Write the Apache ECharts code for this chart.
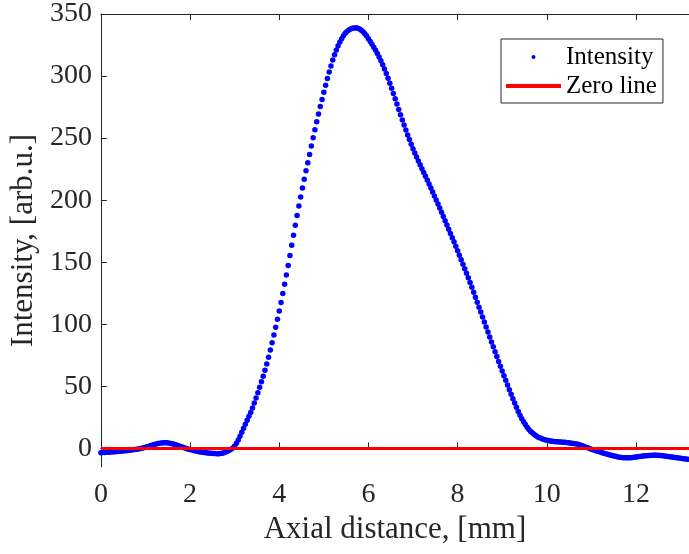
<!DOCTYPE html>
<html>
<head>
<meta charset="utf-8">
<script src="https://cdn.jsdelivr.net/npm/echarts@6/dist/echarts.min.js"></script>
<style>
  html, body { margin: 0; padding: 0; background: #fff; }
  #main { width: 689px; height: 554px; }
</style>
</head>
<body>
<div id="main"></div>
<script>
// axial position [mm]
var axialMm = [
    0.00, 0.04, 0.08, 0.12, 0.16, 0.20, 0.24, 0.28, 0.32, 0.36,
    0.40, 0.44, 0.48, 0.52, 0.56, 0.60, 0.64, 0.68, 0.72, 0.76,
    0.80, 0.84, 0.88, 0.92, 0.96, 1.00, 1.04, 1.08, 1.12, 1.16,
    1.20, 1.24, 1.28, 1.32, 1.36, 1.40, 1.44, 1.48, 1.52, 1.56,
    1.60, 1.64, 1.68, 1.72, 1.76, 1.80, 1.84, 1.88, 1.92, 1.96,
    2.00, 2.04, 2.08, 2.12, 2.16, 2.20, 2.24, 2.28, 2.32, 2.36,
    2.40, 2.44, 2.48, 2.52, 2.56, 2.60, 2.64, 2.68, 2.72, 2.76,
    2.80, 2.84, 2.88, 2.92, 2.96, 3.00, 3.04, 3.08, 3.12, 3.16,
    3.20, 3.24, 3.28, 3.32, 3.36, 3.40, 3.44, 3.48, 3.52, 3.56,
    3.60, 3.64, 3.68, 3.72, 3.76, 3.80, 3.84, 3.88, 3.92, 3.96,
    4.00, 4.04, 4.08, 4.12, 4.16, 4.20, 4.24, 4.28, 4.32, 4.36,
    4.40, 4.44, 4.48, 4.52, 4.56, 4.60, 4.64, 4.68, 4.72, 4.76,
    4.80, 4.84, 4.88, 4.92, 4.96, 5.00, 5.04, 5.08, 5.12, 5.16,
    5.20, 5.24, 5.28, 5.32, 5.36, 5.40, 5.44, 5.48, 5.52, 5.56,
    5.60, 5.64, 5.68, 5.72, 5.76, 5.80, 5.84, 5.88, 5.92, 5.96,
    6.00, 6.04, 6.08, 6.12, 6.16, 6.20, 6.24, 6.28, 6.32, 6.36,
    6.40, 6.44, 6.48, 6.52, 6.56, 6.60, 6.64, 6.68, 6.72, 6.76,
    6.80, 6.84, 6.88, 6.92, 6.96, 7.00, 7.04, 7.08, 7.12, 7.16,
    7.20, 7.24, 7.28, 7.32, 7.36, 7.40, 7.44, 7.48, 7.52, 7.56,
    7.60, 7.64, 7.68, 7.72, 7.76, 7.80, 7.84, 7.88, 7.92, 7.96,
    8.00, 8.04, 8.08, 8.12, 8.16, 8.20, 8.24, 8.28, 8.32, 8.36,
    8.40, 8.44, 8.48, 8.52, 8.56, 8.60, 8.64, 8.68, 8.72, 8.76,
    8.80, 8.84, 8.88, 8.92, 8.96, 9.00, 9.04, 9.08, 9.12, 9.16,
    9.20, 9.24, 9.28, 9.32, 9.36, 9.40, 9.44, 9.48, 9.52, 9.56,
    9.60, 9.64, 9.68, 9.72, 9.76, 9.80, 9.84, 9.88, 9.92, 9.96,
    10.00, 10.04, 10.08, 10.12, 10.16, 10.20, 10.24, 10.28, 10.32, 10.36,
    10.40, 10.44, 10.48, 10.52, 10.56, 10.60, 10.64, 10.68, 10.72, 10.76,
    10.80, 10.84, 10.88, 10.92, 10.96, 11.00, 11.04, 11.08, 11.12, 11.16,
    11.20, 11.24, 11.28, 11.32, 11.36, 11.40, 11.44, 11.48, 11.52, 11.56,
    11.60, 11.64, 11.68, 11.72, 11.76, 11.80, 11.84, 11.88, 11.92, 11.96,
    12.00, 12.04, 12.08, 12.12, 12.16, 12.20, 12.24, 12.28, 12.32, 12.36,
    12.40, 12.44, 12.48, 12.52, 12.56, 12.60, 12.64, 12.68, 12.72, 12.76,
    12.80, 12.84, 12.88, 12.92, 12.96, 13.00, 13.04, 13.08, 13.12, 13.16
];

// intensity [arb.u.]
var intensity = [
    -3.5, -3.4, -3.3, -3.2, -3.1, -3.0, -2.9, -2.8, -2.7, -2.6,
    -2.4, -2.3, -2.2, -2.0, -1.9, -1.7, -1.5, -1.3, -1.1, -0.9,
    -0.7, -0.4, -0.1, 0.2, 0.5, 0.9, 1.3, 1.8, 2.3, 2.7,
    3.1, 3.5, 3.9, 4.2, 4.4, 4.6, 4.6, 4.5, 4.3, 4.0,
    3.7, 3.3, 2.9, 2.4, 1.9, 1.4, 0.9, 0.4, -0.1, -0.6,
    -1.0, -1.4, -1.8, -2.1, -2.4, -2.7, -3.0, -3.2, -3.4, -3.6,
    -3.8, -3.9, -4.0, -4.1, -4.2, -4.3, -4.3, -4.2, -4.0, -3.6,
    -3.0, -2.3, -1.5, -0.6, 0.3, 2.0, 4.2, 6.8, 9.8, 13.0,
    16.2, 19.4, 22.6, 25.8, 29.0, 32.6, 36.5, 40.6, 44.9, 49.2,
    53.6, 58.2, 63.0, 68.0, 73.4, 79.2, 85.2, 91.4, 97.6, 104.0,
    110.6, 117.6, 124.8, 132.2, 139.8, 147.4, 155.4, 163.6, 171.8, 179.8,
    187.6, 195.2, 202.6, 209.8, 216.8, 223.6, 230.2, 236.8, 243.6, 250.2,
    256.8, 263.2, 269.4, 275.4, 281.2, 287.0, 292.6, 298.0, 303.2, 308.2,
    313.0, 317.2, 321.0, 324.4, 327.4, 330.0, 332.4, 334.4, 336.0, 337.2,
    338.0, 338.5, 338.8, 338.9, 338.6, 338.0, 337.0, 335.7, 334.1, 332.2,
    330.1, 327.9, 325.6, 323.2, 320.7, 318.1, 315.3, 312.3, 309.1, 305.7,
    302.1, 298.3, 294.3, 290.2, 286.0, 281.7, 277.4, 273.1, 268.8, 264.6,
    260.5, 256.5, 252.6, 248.8, 245.1, 241.5, 238.1, 234.8, 231.6, 228.5,
    225.4, 222.3, 219.2, 216.2, 213.0, 209.8, 206.6, 203.4, 200.2, 197.0,
    193.6, 190.2, 186.8, 183.4, 180.0, 176.6, 173.2, 169.8, 166.4, 162.8,
    159.2, 155.6, 152.0, 148.4, 144.8, 141.2, 137.4, 133.6, 129.8, 125.8,
    121.8, 117.8, 113.8, 109.8, 105.8, 101.8, 97.8, 93.8, 89.8, 85.8,
    81.8, 77.9, 74.0, 70.1, 66.2, 62.4, 58.6, 54.8, 51.0, 47.3,
    43.6, 40.0, 36.5, 33.1, 29.8, 26.7, 23.9, 21.5, 19.2, 17.1,
    15.3, 13.7, 12.3, 11.1, 10.1, 9.2, 8.5, 7.9, 7.4, 7.0,
    6.6, 6.3, 6.0, 5.8, 5.6, 5.4, 5.3, 5.2, 5.1, 5.0,
    4.9, 4.8, 4.6, 4.4, 4.2, 4.0, 3.8, 3.5, 3.1, 2.6,
    2.1, 1.5, 1.0, 0.5, 0.0, -0.6, -1.1, -1.6, -2.1, -2.6,
    -3.0, -3.5, -3.9, -4.3, -4.7, -5.1, -5.5, -5.9, -6.2, -6.6,
    -6.9, -7.1, -7.3, -7.5, -7.6, -7.6, -7.6, -7.5, -7.4, -7.2,
    -7.0, -6.8, -6.6, -6.4, -6.2, -6.0, -5.9, -5.8, -5.7, -5.6,
    -5.6, -5.6, -5.6, -5.7, -5.8, -6.0, -6.1, -6.3, -6.5, -6.7,
    -6.9, -7.1, -7.3, -7.5, -7.7, -7.9, -8.2, -8.4, -8.6, -8.8
];

// zero line end points
var zeroX = [0, 13.19];
var zeroY = [0, 0];

var xTicks = [0, 2, 4, 6, 8, 10, 12];
var yTicks = [0, 50, 100, 150, 200, 250, 300, 350];

var FONT = '"Liberation Serif", "Times New Roman", serif';
var AXC = '#262626';

var pts = [];
for (var i = 0; i < axialMm.length; i++) {
    pts.push([axialMm[i], intensity[i]]);
}
var zeroPts = [];
for (var j = 0; j < zeroX.length; j++) {
    zeroPts.push([zeroX[j], zeroY[j]]);
}

var chart = echarts.init(document.getElementById('main'));

var option = {
    animation: false,
    backgroundColor: '#fff',
    grid: { left: 100, right: 0, top: 14, bottom: 87, containLabel: false },
    legend: {
        orient: 'vertical',
        left: 501,
        top: 39,
        padding: [5, 6, 4, 5],
        itemWidth: 55,
        itemHeight: 4,
        itemGap: 3,
        borderColor: AXC,
        borderWidth: 1,
        backgroundColor: '#fff',
        textStyle: { fontFamily: FONT, fontSize: 25, color: '#000', lineHeight: 26 },
        data: [
            { name: 'Intensity', icon: 'circle' },
            { name: 'Zero line', icon: 'rect' }
        ]
    },
    xAxis: [{
        type: 'value',
        min: 0,
        max: 13.19,
        name: 'Axial distance, [mm]',
        nameLocation: 'middle',
        nameGap: 42,
        nameTextStyle: { fontFamily: FONT, fontSize: 31, color: AXC },
        axisLine: { show: true, lineStyle: { color: AXC, width: 1 } },
        axisTick: { show: true, inside: true, length: 6, lineStyle: { color: AXC }, customValues: xTicks },
        axisLabel: { fontFamily: FONT, fontSize: 28, color: AXC, margin: 14, customValues: xTicks },
        splitLine: { show: false }
    }, {
        type: 'value',
        position: 'top',
        min: 0,
        max: 13.19,
        axisLine: { show: true, lineStyle: { color: AXC, width: 1 } },
        axisTick: { show: true, inside: true, length: 6, lineStyle: { color: AXC }, customValues: xTicks },
        axisLabel: { show: false },
        splitLine: { show: false }
    }],
    yAxis: [{
        type: 'value',
        min: -15,
        max: 350,
        name: 'Intensity, [arb.u.]',
        nameLocation: 'middle',
        nameGap: 58,
        nameTextStyle: { fontFamily: FONT, fontSize: 31, color: AXC },
        axisLine: { show: true, lineStyle: { color: AXC, width: 1 } },
        axisTick: { show: true, inside: true, length: 6, lineStyle: { color: AXC }, customValues: yTicks },
        axisLabel: { fontFamily: FONT, fontSize: 28, color: AXC, margin: 9, customValues: yTicks },
        splitLine: { show: false }
    }],
    series: [{
        name: 'Intensity',
        type: 'scatter',
        symbol: 'circle',
        symbolSize: 5.5,
        itemStyle: { color: '#0000ff', opacity: 1 },
        data: pts,
        z: 2
    }, {
        name: 'Zero line',
        type: 'line',
        showSymbol: false,
        symbol: 'none',
        lineStyle: { color: '#ff0000', width: 3 },
        itemStyle: { color: '#ff0000' },
        data: zeroPts,
        z: 3
    }]
};

chart.setOption(option);
</script>
</body>
</html>
